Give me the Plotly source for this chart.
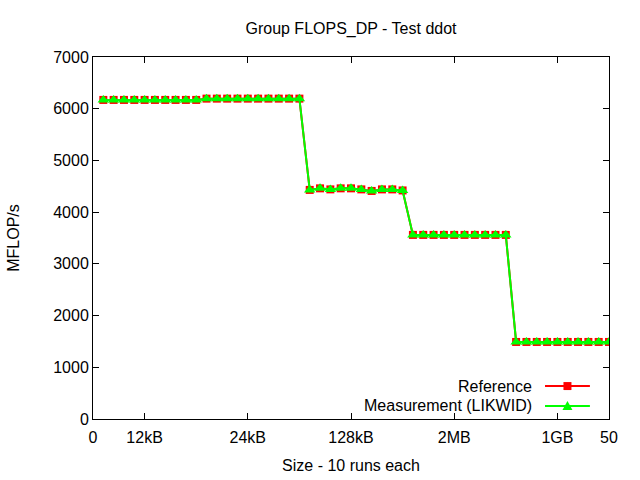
import plotly.graph_objects as go

x_runs = list(range(1, 51))
reference = [6170]*10 + [6195]*10 + [4430, 4460, 4440, 4460, 4460, 4440, 4410, 4440, 4440, 4420] + [3560]*10 + [1490]*10
measurement = [6170]*10 + [6195]*10 + [4430, 4460, 4440, 4460, 4460, 4440, 4410, 4440, 4440, 4420] + [3560]*10 + [1490]*10
x_tickvals = [0, 5, 15, 25, 35, 45, 50]
x_ticktext = ["0", "12kB", "24kB", "128kB", "2MB", "1GB", "50"]
y_tickvals = [0, 1000, 2000, 3000, 4000, 5000, 6000, 7000]

FONT = "Liberation Sans, Arial, sans-serif"
FS = 16

fig = go.Figure()
fig.add_trace(go.Scatter(x=x_runs, y=reference, mode="lines+markers", name="Reference",
                         line=dict(color="#ff0000", width=2),
                         marker=dict(symbol="square", size=8, color="#ff0000")))
fig.add_trace(go.Scatter(x=x_runs, y=measurement, mode="lines+markers", name="Measurement (LIKWID)",
                         line=dict(color="#00ff00", width=2),
                         marker=dict(symbol="triangle-up", size=10, color="#00ff00")))

axis_common = dict(showgrid=False, zeroline=False, showline=True, linecolor="black", linewidth=1,
                   mirror="ticks", ticks="inside", ticklen=6, tickcolor="black", automargin=False,
                   tickfont=dict(family=FONT, size=FS, color="black"))
fig.update_xaxes(range=[0, 50], tickmode="array", tickvals=x_tickvals, ticktext=x_ticktext,
                 ticklabelstandoff=4,
                 title=dict(text="Size - 10 runs each", font=dict(family=FONT, size=FS, color="black"), standoff=14),
                 **axis_common)
fig.update_yaxes(range=[0, 7000], tickmode="array", tickvals=y_tickvals,
                 title=dict(text="MFLOP/s", font=dict(family=FONT, size=FS, color="black"), standoff=29),
                 **axis_common)

# gnuplot-style legend: text to the left of the line sample
shapes = []
annotations = []
rows = [("Reference", "#ff0000", "square", 0.091), ("Measurement (LIKWID)", "#00ff00", "tri", 0.036)]
for label, col, sym, yy in rows:
    annotations.append(dict(text=label, x=0.855, y=yy, xref="paper", yref="paper", xanchor="right",
                            yanchor="middle", showarrow=False, font=dict(family=FONT, size=FS, color="black")))
    shapes.append(dict(type="line", xref="paper", yref="paper", x0=0.876, x1=0.963, y0=yy, y1=yy,
                       line=dict(color=col, width=2)))
    if sym == "square":
        path = "M -4 -4 L 4 -4 L 4 4 L -4 4 Z"
    else:
        path = "M -5 -4 L 5 -4 L 0 5 Z"
    shapes.append(dict(type="path", xref="paper", yref="paper", xsizemode="pixel", ysizemode="pixel",
                       xanchor=0.9195, yanchor=yy, path=path, fillcolor=col, line=dict(color=col, width=0)))

fig.update_layout(
    width=640, height=480,
    margin=dict(l=93, r=31, t=57, b=61, autoexpand=False),
    paper_bgcolor="white", plot_bgcolor="white",
    showlegend=False,
    title=dict(text="Group FLOPS_DP - Test ddot", x=0.5, xref="paper", xanchor="center",
               y=0.94, yanchor="middle", font=dict(family=FONT, size=FS, color="black")),
    shapes=shapes, annotations=annotations,
)
fig.write_html("out.html")
